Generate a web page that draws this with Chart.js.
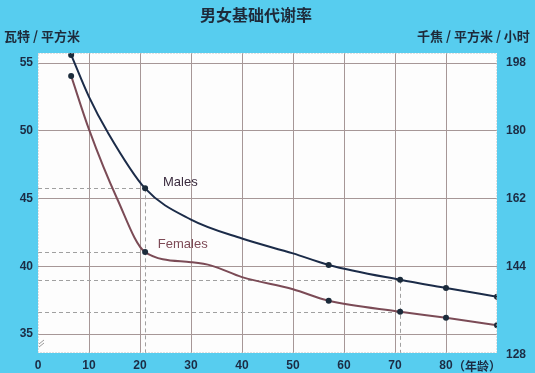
<!DOCTYPE html>
<html>
<head>
<meta charset="utf-8">
<script src="https://cdn.jsdelivr.net/npm/chart.js@4"></script>
<style>
  html, body { margin: 0; padding: 0; background: #57cdef; }
  #wrap { width: 535px; height: 373px; }
</style>
</head>
<body>
<div id="wrap"><canvas id="bmrChart" width="535" height="373"></canvas></div>
<script>
// ages and values; dots only on the marked ages
const maleAges = [6.5, 10, 13.5, 21, 30, 40, 50, 57, 71, 80, 90];
const maleValues = [55.6, 52.5, 50.0, 45.75, 43.45, 42.05, 40.95, 40.1, 39.0, 38.4, 37.75];
const femaleAges = [6.5, 10, 15.5, 21, 30, 34, 40, 50, 57, 71, 80, 90];
const femaleValues = [54.05, 50.1, 45.0, 41.05, 40.3, 40.05, 39.2, 38.3, 37.45, 36.65, 36.2, 35.65];
const markedAges = [6.5, 21, 57, 71, 80, 90];
const guideAges = [21, 71];

const leftTicks = [35, 40, 45, 50, 55];
const rightTicks = [144, 162, 180, 198];
const rightBottomLabel = '128';
const xTicks = [0, 10, 20, 30, 40, 50, 60, 70, 80];
const kjFactor = 3.6;

const yMin = 33.6, yMax = 55.74;
const gridColor = '#a69797';
const tickColor = '#1c2c44';

function toPoints(ages, vals) {
    return ages.map((a, i) => ({ x: a, y: vals[i] }));
}

const pointSize = ctx => markedAges.includes(ctx.raw.x) ? 3 : 0;

const decor = {
    id: 'decor',
    beforeDraw(chart) {
        const { ctx, chartArea: a } = chart;
        ctx.save();
        ctx.fillStyle = '#fdfdfd';
        ctx.fillRect(a.left, a.top, a.right - a.left, a.bottom - a.top);
        ctx.restore();
    },
    beforeDatasetsDraw(chart) {
        const { ctx, chartArea: a } = chart;
        const xs = chart.scales.x, ys = chart.scales.y;
        ctx.save();
        ctx.strokeStyle = '#a0a0a0';
        ctx.lineWidth = 1;
        ctx.setLineDash([4, 3]);
        guideAges.forEach(age => {
            const px = Math.round(xs.getPixelForValue(age)) + 0.5;
            [maleValues[maleAges.indexOf(age)], femaleValues[femaleAges.indexOf(age)]].forEach(v => {
                const py = Math.round(ys.getPixelForValue(v)) + 0.5;
                ctx.beginPath();
                ctx.moveTo(a.left, py);
                ctx.lineTo(px, py);
                ctx.stroke();
            });
            const top = ys.getPixelForValue(maleValues[maleAges.indexOf(age)]);
            ctx.beginPath();
            ctx.moveTo(px, top);
            ctx.lineTo(px, a.bottom);
            ctx.stroke();
        });
        ctx.restore();
    },
    afterDraw(chart) {
        const { ctx, chartArea: a } = chart;
        const xs = chart.scales.x, ys = chart.scales.y;
        ctx.save();
        // dotted plot frame
        ctx.strokeStyle = '#c4c4c4';
        ctx.setLineDash([1, 2]);
        ctx.strokeRect(a.left + 0.5, a.top + 0.5, a.right - a.left - 1, a.bottom - a.top - 1);
        ctx.setLineDash([]);

        // axis break mark
        ctx.strokeStyle = '#9a9a9a';
        ctx.lineWidth = 1;
        [0, 3].forEach(d => {
            ctx.beginPath();
            ctx.moveTo(a.left + 1, a.bottom - 6 - d);
            ctx.lineTo(a.left + 6, a.bottom - 10 - d);
            ctx.stroke();
        });

        // titles
        ctx.fillStyle = '#1e2a3a';
        ctx.textBaseline = 'middle';
        ctx.font = 'bold 16px "Noto Sans CJK SC"';
        ctx.textAlign = 'center';
        ctx.fillText('男女基础代谢率', 256, 15);
        ctx.font = 'bold 13px "Noto Sans CJK SC"';
        ctx.textAlign = 'left';
        ctx.fillText('瓦特 / 平方米', 4, 36);
        ctx.fillText('千焦 / 平方米 / 小时', 417, 36);

        // age unit and bottom right label
        ctx.fillStyle = tickColor;
        ctx.font = 'bold 12px "Noto Sans CJK SC"';
        ctx.fillText('（年龄）', xs.getPixelForValue(80) + 7, 366);
        ctx.font = 'bold 12px "Liberation Sans"';
        ctx.fillText(rightBottomLabel, a.right + 9, a.bottom + 2);

        // series labels
        ctx.font = '13px "Liberation Sans"';
        ctx.fillStyle = '#3a2b3e';
        ctx.fillText('Males', xs.getPixelForValue(24.5), ys.getPixelForValue(46.2));
        ctx.fillStyle = '#7e4b57';
        ctx.fillText('Females', xs.getPixelForValue(23.5), ys.getPixelForValue(41.6));
        ctx.restore();
    }
};

new Chart(document.getElementById('bmrChart'), {
    type: 'line',
    data: {
        datasets: [{
            label: 'Males',
            data: toPoints(maleAges, maleValues),
            borderColor: '#1b2b48',
            backgroundColor: '#1b2b3b',
            borderWidth: 2,
            pointRadius: pointSize,
            pointBackgroundColor: '#1b2b3b',
            pointBorderWidth: 0,
            cubicInterpolationMode: 'monotone'
        }, {
            label: 'Females',
            data: toPoints(femaleAges, femaleValues),
            borderColor: '#7b4b56',
            backgroundColor: '#1b2b3b',
            borderWidth: 2,
            pointRadius: pointSize,
            pointBackgroundColor: '#1b2b3b',
            pointBorderWidth: 0,
            cubicInterpolationMode: 'monotone'
        }]
    },
    options: {
        responsive: false,
        animation: false,
        layout: { padding: { top: 53, left: 0, right: 0, bottom: 0 } },
        plugins: { legend: { display: false }, tooltip: { enabled: false } },
        scales: {
            x: {
                type: 'linear',
                min: 0,
                max: 90,
                afterBuildTicks: s => { s.ticks = xTicks.concat([90]).map(v => ({ value: v })); },
                afterFit: s => { s.height = 20; },
                ticks: {
                    color: tickColor,
                    font: { family: 'Liberation Sans', size: 12, weight: 'bold' },
                    padding: 5,
                    maxRotation: 0,
                    callback: v => xTicks.includes(v) ? String(v) : ''
                },
                grid: {
                    color: c => (c.tick && (c.tick.value === 0 || c.tick.value === 90)) ? 'transparent' : gridColor,
                    drawTicks: false
                },
                border: { display: false }
            },
            y: {
                position: 'left',
                min: yMin,
                max: yMax,
                afterBuildTicks: s => { s.ticks = leftTicks.map(v => ({ value: v })); },
                afterFit: s => { s.width = 38; },
                ticks: {
                    color: tickColor,
                    font: { family: 'Liberation Sans', size: 12, weight: 'bold' },
                    padding: 5
                },
                grid: { color: gridColor, drawTicks: false },
                border: { display: false }
            },
            y2: {
                position: 'right',
                min: yMin * kjFactor,
                max: yMax * kjFactor,
                afterBuildTicks: s => { s.ticks = rightTicks.map(v => ({ value: v })); },
                afterFit: s => { s.width = 38; },
                ticks: {
                    color: tickColor,
                    font: { family: 'Liberation Sans', size: 12, weight: 'bold' },
                    padding: 9
                },
                grid: { display: false, drawTicks: false },
                border: { display: false }
            }
        }
    },
    plugins: [decor]
});
</script>
</body>
</html>
